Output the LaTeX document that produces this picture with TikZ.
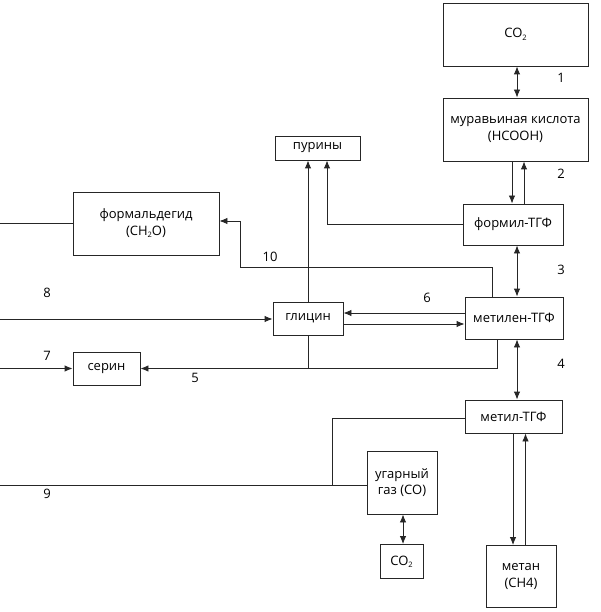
\documentclass[tikz,border=0pt]{standalone}
\usepackage{fontspec}
\setmainfont{Open Sans}
\usetikzlibrary{arrows.meta}
\tikzset{
 box/.style={draw=black!85,line width=0.9pt,inner sep=0pt,align=center,font=\fontsize{13}{16.5}\selectfont},
 conn/.style={draw=black!85,line width=0.9pt},
 arr/.style={conn,-{Latex[length=8pt,width=6.5pt]}},
 darr/.style={conn,{Latex[length=8pt,width=6.5pt]}-{Latex[length=8pt,width=6.5pt]}},
 num/.style={font=\fontsize{13}{15}\selectfont,inner sep=0pt}
}
\newcommand{\chemsub}[1]{\raisebox{-0.35ex}{\fontsize{7.5}{8}\selectfont #1}}
\begin{document}
\begin{tikzpicture}[x=1pt,y=-1pt]
 \useasboundingbox (0,0) rectangle (600,612);
 % boxes
 \node[box,minimum width=145pt,minimum height=63pt] (co2top) at (515.5,34.5) {CO\chemsub{2}};
 \node[box,minimum width=145pt,minimum height=63pt] (formic) at (515.5,129.5) {муравьиная кислота\\(HCOOH)};
 \node[box,minimum width=85pt,minimum height=24pt] (purines) at (317.5,148) {пурины};
 \node[box,minimum width=100pt,minimum height=41pt] (formyl) at (513,224.5) {формил-ТГФ};
 \node[box,minimum width=146pt,minimum height=63pt] (formald) at (146,223.5) {формальдегид\\(CH\chemsub{2}O)};
 \node[box,minimum width=98pt,minimum height=42pt] (methylene) at (514,318) {метилен-ТГФ};
 \node[box,minimum width=70pt,minimum height=33pt] (glycine) at (308,318.5) {глицин};
 \node[box,minimum width=67pt,minimum height=33pt] (serine) at (106.5,368.5) {серин};
 \node[box,minimum width=97pt,minimum height=33pt] (methyl) at (513.5,416.5) {метил-ТГФ};
 \node[box,minimum width=70pt,minimum height=63pt] (co) at (402,482.5) {угарный\\газ (CO)};
 \node[box,minimum width=43pt,minimum height=34pt] (co2bot) at (401.5,561.5) {CO\chemsub{2}};
 \node[box,minimum width=70pt,minimum height=62pt] (methane) at (521,576.5) {метан\\(CH4)};
 % left edge for the free ends
 \coordinate (edge) at (0,0);
 % main chain
 \draw[darr] ([xshift=1.5pt]co2top.south) -- ([xshift=1.5pt]formic.north);
 \draw[arr] ([xshift=-3.5pt]formic.south) -- ([xshift=-3.5pt]formic.south |- formyl.north);
 \draw[arr] ([xshift=11pt]formyl.north) -- ([xshift=11pt]formyl.north |- formic.south);
 \draw[darr] ([xshift=4pt]formyl.south) -- ([xshift=4pt]formyl.south |- methylene.north);
 \draw[darr] ([xshift=3pt]methylene.south) -- ([xshift=3pt]methylene.south |- methyl.north);
 \draw[arr] ([xshift=-0.5pt]methyl.south) -- ([xshift=-0.5pt]methyl.south |- methane.north);
 \draw[arr] ([xshift=12pt]methyl.south |- methane.north) -- ([xshift=12pt]methyl.south);
 \draw[darr] ([xshift=1pt]co.south) -- ([xshift=1pt]co.south |- co2bot.north);
 % side branches
 \draw[arr] (formyl.west) -| ([xshift=9.5pt]purines.south);
 \draw[arr] (glycine.north) -- (glycine.north |- purines.south);
 \draw[arr] ([xshift=-22pt]methylene.north) |- ++(0,-29) -| (240,221) -- ([yshift=2.5pt]formald.east);
 \draw[arr] ([yshift=5pt]methylene.west) -- ([yshift=5pt]methylene.west -| glycine.east);
 \draw[arr] ([yshift=-6pt]methylene.west -| glycine.east) -- ([yshift=-6pt]methylene.west);
 \draw[arr] ([xshift=-17pt]methylene.south) |- (serine.east);
 \draw[conn] (glycine.south) -- (glycine.south |- serine.east);
 \draw[arr] (edge |- serine.west) -- (serine.west);
 \draw[arr] ([yshift=-0.5pt]edge |- glycine.west) -- ([yshift=-0.5pt]glycine.west);
 \draw[conn] (edge |- formald.west) -- (formald.west);
 \draw[conn] ([yshift=-2.5pt]edge |- co.west) -- ([yshift=-2.5pt]co.west);
 \draw[conn] ([yshift=-1.5pt]methyl.west) -| ([xshift=-34pt,yshift=-2.5pt]co.west);
 % numbers
 \node[num] (n1) at (561,78) {1};
 \node[num] (n2) at (561,174) {2};
 \node[num] (n3) at (561,270) {3};
 \node[num] (n4) at (561,364) {4};
 \node[num] (n5) at (195,378) {5};
 \node[num] (n6) at (427,298) {6};
 \node[num] (n7) at (47,356) {7};
 \node[num] (n8) at (47,293) {8};
 \node[num] (n9) at (47,494) {9};
 \node[num] (n10) at (270,257) {10};
\end{tikzpicture}
\end{document}
